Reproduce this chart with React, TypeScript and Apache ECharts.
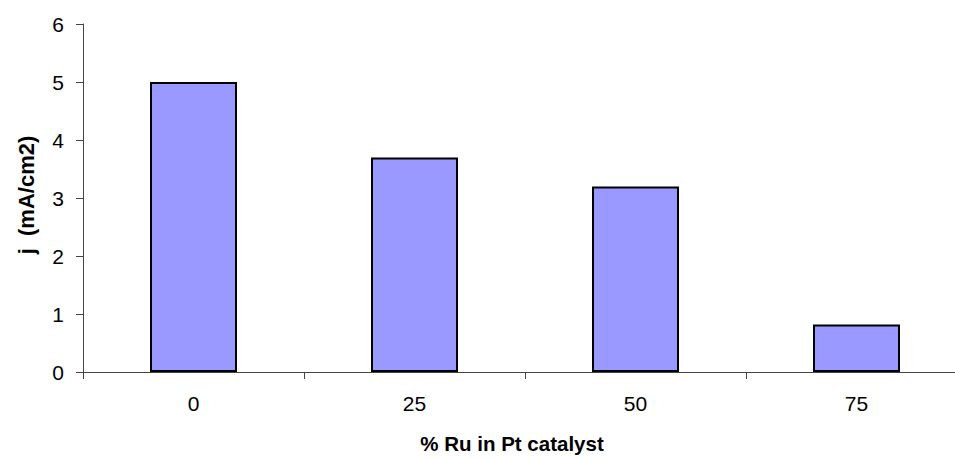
import React, { useEffect, useRef } from "react";
import * as echarts from "echarts";

const categories = ["0", "25", "50", "75"];
const values = [5.0, 3.7, 3.2, 0.82];
const yTicks = { min: 0, max: 6, interval: 1 };
const xTitle = "% Ru in Pt catalyst";
const yTitle = "j  (mA/cm2)";

const FONT = "'Liberation Sans', Arial, sans-serif";

export default function App() {
  const ref = useRef<HTMLDivElement>(null);
  useEffect(() => {
    if (!ref.current) return;
    const chart = echarts.init(ref.current, undefined, { renderer: "svg" });
    chart.setOption({
      animation: false,
      backgroundColor: "#ffffff",
      grid: { left: 83, right: 13, top: 24, bottom: 86, containLabel: false },
      xAxis: {
        type: "category",
        data: categories,
        boundaryGap: true,
        axisLine: { lineStyle: { color: "#444", width: 1 } },
        axisTick: { show: true, length: 7, lineStyle: { color: "#444" } },
        axisLabel: { color: "#000", fontSize: 21, fontFamily: FONT, margin: 21 },
        splitLine: { show: false },
      },
      yAxis: {
        type: "value",
        min: yTicks.min,
        max: yTicks.max,
        interval: yTicks.interval,
        axisLine: { show: true, lineStyle: { color: "#444", width: 1 } },
        axisTick: { show: true, length: 7, lineStyle: { color: "#444" } },
        axisLabel: { color: "#000", fontSize: 21, fontFamily: FONT, margin: 19 },
        splitLine: { show: false },
      },
      graphic: [
        {
          type: "text",
          x: 512,
          y: 443,
          style: {
            text: xTitle,
            font: `bold 20.5px ${FONT}`,
            fill: "#000",
            align: "center",
            verticalAlign: "middle",
          },
        },
        {
          type: "text",
          x: 26,
          y: 195,
          rotation: Math.PI / 2,
          style: {
            text: yTitle,
            font: `bold 22px ${FONT}`,
            fill: "#000",
            align: "center",
            verticalAlign: "middle",
          },
        },
      ],
      series: [
        {
          type: "bar",
          data: values,
          barWidth: 87,
          itemStyle: { color: "#9999FF", borderColor: "#000", borderWidth: 2 },
        },
      ],
    });
    return () => chart.dispose();
  }, []);
  return (
    <div
      style={{
        position: "absolute",
        left: 0,
        top: 0,
        width: 955,
        height: 458,
        overflow: "hidden",
      }}
    >
      <div ref={ref} style={{ width: 980, height: 458 }} />
    </div>
  );
}
